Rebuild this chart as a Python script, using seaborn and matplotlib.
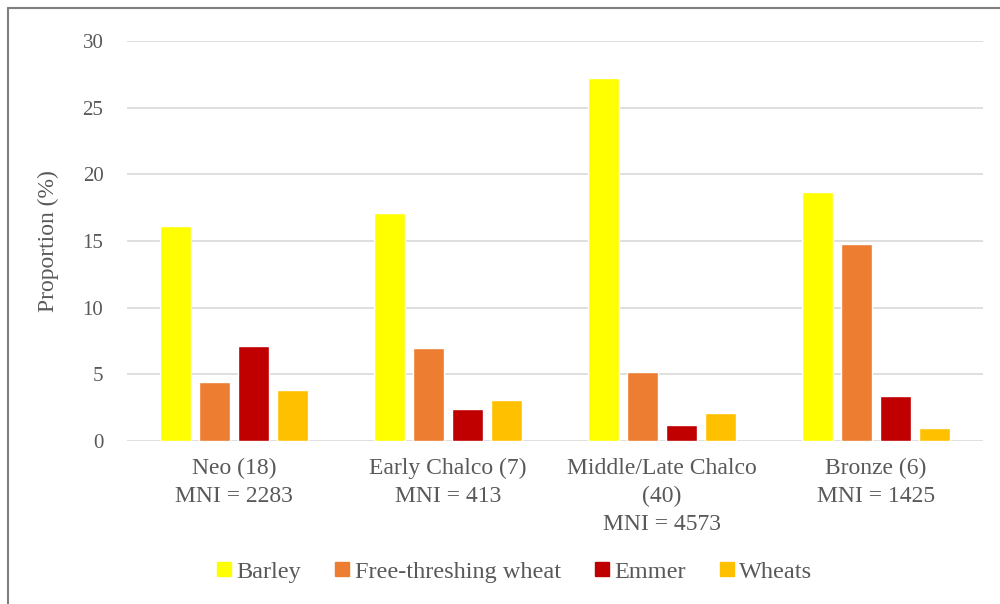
import matplotlib
matplotlib.use("Agg")
import matplotlib.pyplot as plt
from matplotlib.lines import Line2D
import seaborn as sns
import pandas as pd

periods = [
    "Neo (18)\nMNI = 2283",
    "Early Chalco (7)\nMNI = 413",
    "Middle/Late Chalco\n(40)\nMNI = 4573",
    "Bronze (6)\nMNI = 1425",
]
crops = ["Barley", "Free-threshing wheat", "Emmer", "Wheats"]
barley = [16.1, 17.1, 27.2, 18.7]
free_threshing = [4.4, 7.0, 5.2, 14.8]
emmer = [7.1, 2.4, 1.2, 3.4]
wheats = [3.8, 3.1, 2.1, 1.0]
colors = ["#FFFF00", "#ED7D31", "#C00000", "#FFC000"]

rows = []
for crop, vals in zip(crops, [barley, free_threshing, emmer, wheats]):
    for period, v in zip(periods, vals):
        rows.append({"period": period, "crop": crop, "value": v})
df = pd.DataFrame(rows)

sns.set_theme(style="white")
plt.rcParams["font.family"] = ["Liberation Serif", "DejaVu Serif"]
text_color = "#595959"

fig = plt.figure(figsize=(10, 6.04), dpi=100)
ax = fig.add_axes([0.127, 0.270, 0.856, 0.662])

sns.barplot(data=df, x="period", y="value", hue="crop", order=periods,
            hue_order=crops, palette=colors, width=0.73, gap=0.22,
            saturation=1, ax=ax, legend=False, errorbar=None)

ax.set_ylim(0, 30)
ax.set_yticks(range(0, 31, 5))
ax.yaxis.grid(True, color="#D9D9D9", linewidth=1.2)
ax.set_axisbelow(True)
for s in ax.spines.values():
    s.set_visible(False)
ax.tick_params(axis="y", length=0, colors=text_color, labelsize=15, pad=17)
ax.tick_params(axis="x", length=0, colors=text_color, labelsize=17, pad=12)
for lbl in ax.get_xticklabels():
    lbl.set_linespacing(1.45)
ax.set_xlabel("")
ax.set_ylabel("Proportion (%)", color=text_color, fontsize=17, labelpad=17)

handles = [Line2D([0], [0], marker="s", linestyle="none", markersize=10,
                  markerfacecolor=c, markeredgecolor=c) for c in colors]
fig.legend(handles, crops, loc="center", bbox_to_anchor=(0.514, 0.053),
           ncol=4, frameon=False, fontsize=17.5, labelcolor=text_color,
           handletextpad=0.15, columnspacing=1.35, handlelength=0.7)

# outer frame lines (top and left)
fig.add_artist(Line2D([0.008, 1.0], [1 - 8 / 604, 1 - 8 / 604],
                      transform=fig.transFigure, color="#7F7F7F", linewidth=1.5))
fig.add_artist(Line2D([0.008, 0.008], [0.0, 1 - 8 / 604],
                      transform=fig.transFigure, color="#7F7F7F", linewidth=1.5))

fig.savefig("out.png", dpi=100, facecolor="white")
